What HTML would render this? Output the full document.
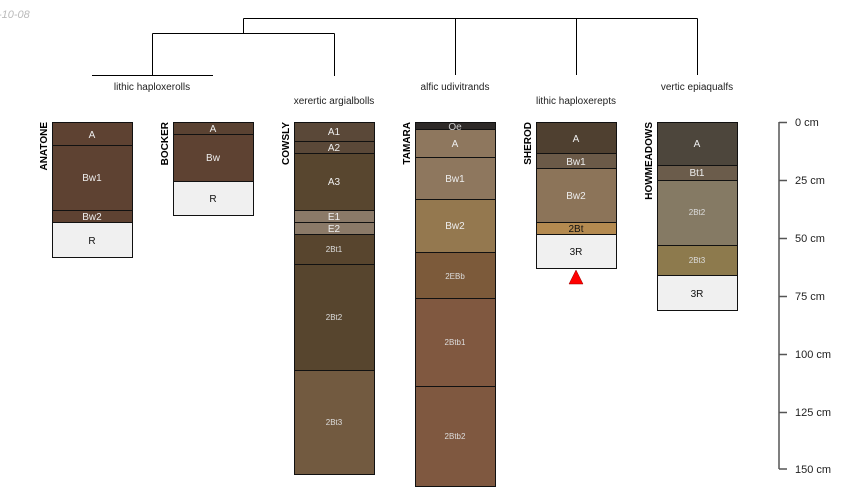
<!DOCTYPE html>
<html><head><style>
html,body{margin:0;padding:0;background:#fff;}
svg{display:block;font-family:"Liberation Sans",sans-serif;}
</style></head><body>
<svg width="850" height="500" viewBox="0 0 850 500" xmlns="http://www.w3.org/2000/svg">
<text x="-2" y="18" font-size="11" font-style="italic" fill="#bbb">-10-08</text>
<g stroke="#000" stroke-width="1" fill="none">
<path d="M243.5 18.5H697.5M243.5 18.5V33.5M152.5 33.5H334.5M152.5 33.5V75.5M92 75.5H213M334.5 33.5V76M455.5 18.5V75M576.5 18.5V75M697.5 18.5V75"/>
</g>
<g font-size="10" fill="#222" text-anchor="middle">
<text x="152" y="90">lithic haploxerolls</text>
<text x="334" y="104">xerertic argialbolls</text>
<text x="455" y="90">alfic udivitrands</text>
<text x="576" y="104">lithic haploxerepts</text>
<text x="697" y="90">vertic epiaqualfs</text>
</g>
<g font-size="10" font-weight="bold" fill="#000" text-anchor="end">
<text transform="translate(47,122) rotate(-90)">ANATONE</text>
<text transform="translate(168,122) rotate(-90)">BOCKER</text>
<text transform="translate(289,122) rotate(-90)">COWSLY</text>
<text transform="translate(410,122) rotate(-90)">TAMARA</text>
<text transform="translate(531,122) rotate(-90)">SHEROD</text>
<text transform="translate(652,122) rotate(-90)">HOWMEADOWS</text>
</g>
<g stroke="#111" stroke-width="1">
<rect x="52.5" y="122.5" width="80" height="23" fill="#5e4232"/>
<rect x="52.5" y="145.5" width="80" height="65" fill="#5e4232"/>
<rect x="52.5" y="210.5" width="80" height="12" fill="#5e4232"/>
<rect x="52.5" y="222.5" width="80" height="35" fill="#f0f0f0"/>
<rect x="173.5" y="122.5" width="80" height="12" fill="#5a4232"/>
<rect x="173.5" y="134.5" width="80" height="47" fill="#5e4232"/>
<rect x="173.5" y="181.5" width="80" height="34" fill="#f0f0f0"/>
<rect x="294.5" y="122.5" width="80" height="19" fill="#5a4838"/>
<rect x="294.5" y="141.5" width="80" height="12" fill="#5a4838"/>
<rect x="294.5" y="153.5" width="80" height="57" fill="#58462f"/>
<rect x="294.5" y="210.5" width="80" height="12" fill="#8b7a68"/>
<rect x="294.5" y="222.5" width="80" height="12" fill="#8b7a68"/>
<rect x="294.5" y="234.5" width="80" height="30" fill="#58452e"/>
<rect x="294.5" y="264.5" width="80" height="106" fill="#57452e"/>
<rect x="294.5" y="370.5" width="80" height="104" fill="#725a40"/>
<rect x="415.5" y="122.5" width="80" height="7" fill="#2e2a28"/>
<rect x="415.5" y="129.5" width="80" height="28" fill="#8e775e"/>
<rect x="415.5" y="157.5" width="80" height="42" fill="#8e775e"/>
<rect x="415.5" y="199.5" width="80" height="53" fill="#94784f"/>
<rect x="415.5" y="252.5" width="80" height="46" fill="#7c5a3a"/>
<rect x="415.5" y="298.5" width="80" height="88" fill="#805840"/>
<rect x="415.5" y="386.5" width="80" height="100" fill="#7f5840"/>
<rect x="536.5" y="122.5" width="80" height="31" fill="#4f4030"/>
<rect x="536.5" y="153.5" width="80" height="15" fill="#6b5a48"/>
<rect x="536.5" y="168.5" width="80" height="54" fill="#8c7459"/>
<rect x="536.5" y="222.5" width="80" height="12" fill="#b48a50"/>
<rect x="536.5" y="234.5" width="80" height="34" fill="#f0f0f0"/>
<rect x="657.5" y="122.5" width="80" height="43" fill="#4d463c"/>
<rect x="657.5" y="165.5" width="80" height="15" fill="#6b5c4b"/>
<rect x="657.5" y="180.5" width="80" height="65" fill="#857a64"/>
<rect x="657.5" y="245.5" width="80" height="30" fill="#8d7a4d"/>
<rect x="657.5" y="275.5" width="80" height="35" fill="#f0f0f0"/>
</g>
<polygon points="576,270 569,284 583,284" fill="#f00" stroke="#900" stroke-width="0.5"/>
<g font-size="10" fill="#eee" text-anchor="middle">
<text x="92" y="138">A</text><text x="92" y="181">Bw1</text><text x="92" y="220">Bw2</text>
<text x="92" y="244" fill="#111">R</text>
<text x="213" y="132">A</text><text x="213" y="161">Bw</text><text x="213" y="202" fill="#111">R</text>
<text x="334" y="135">A1</text><text x="334" y="151">A2</text><text x="334" y="185">A3</text>
<text x="334" y="220">E1</text><text x="334" y="232">E2</text>
<text x="455" y="130" fill="#ccc">Oe</text><text x="455" y="147">A</text><text x="455" y="182">Bw1</text><text x="455" y="229">Bw2</text>
<text x="576" y="142">A</text><text x="576" y="165">Bw1</text><text x="576" y="199">Bw2</text>
<text x="576" y="232" fill="#111">2Bt</text><text x="576" y="255" fill="#111">3R</text>
<text x="697" y="147">A</text><text x="697" y="176">Bt1</text><text x="697" y="297" fill="#111">3R</text>
</g>
<g font-size="8" fill="#ddd" text-anchor="middle">
<text x="334" y="252">2Bt1</text><text x="334" y="320">2Bt2</text><text x="334" y="425">2Bt3</text>
<text x="455" y="279">2EBb</text><text x="455" y="345">2Btb1</text><text x="455" y="439">2Btb2</text>
<text x="697" y="215">2Bt2</text><text x="697" y="263">2Bt3</text>
</g>
<g stroke="#555" stroke-width="1.5">
<path d="M779 122V469M779 122.5H787M779 180.5H787M779 238.5H787M779 296.5H787M779 354.5H787M779 412.5H787M779 469H787"/>
</g>
<g font-size="11" fill="#222">
<text x="795" y="126">0 cm</text><text x="795" y="184">25 cm</text><text x="795" y="242">50 cm</text>
<text x="795" y="300">75 cm</text><text x="795" y="358">100 cm</text><text x="795" y="416">125 cm</text><text x="795" y="473">150 cm</text>
</g>
</svg>
</body></html>
